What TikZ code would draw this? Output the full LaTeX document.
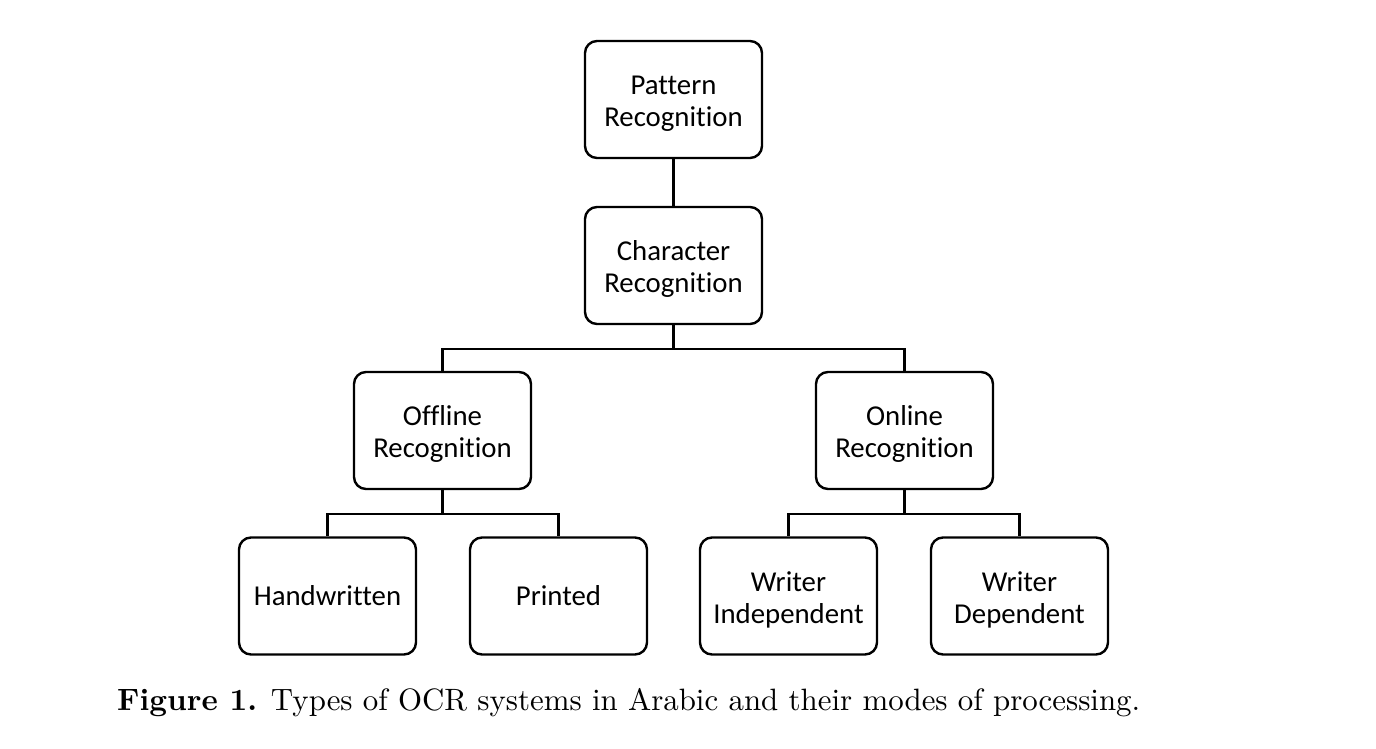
\documentclass[tikz,border=0pt]{standalone}
\usepackage{fontspec}
\setsansfont{Carlito}[Ligatures=NoCommon]
\usetikzlibrary{positioning}
\newcommand\twolines[2]{\raisebox{-5pt}[\height][\depth]{\begin{tabular}{@{}c@{}}#1\\#2\end{tabular}}}
\tikzset{
  box/.style={draw, line width=2.4pt, rounded corners=12pt, minimum width=177pt, minimum height=117pt, align=center, font=\sffamily\fontsize{28.8}{32}\selectfont, inner sep=0pt},
  link/.style={line width=2.4pt}
}
\begin{document}
\begin{tikzpicture}[x=1pt,y=-1pt]
\useasboundingbox (0,0) rectangle (1376,748);
\node[box] (pr) at (673.5,99.5) {\twolines{Pattern}{Recognition}};
\node[box] (cr) at (673.5,265.5) {\twolines{Character}{Recognition}};
\node[box] (off) at (442.5,430.5) {\twolines{Offline}{Recognition}};
\node[box] (on) at (904.5,430.5) {\twolines{Online}{Recognition}};
\node[box] (hw) at (327.5,596) {Handwritten};
\node[box] (pt) at (558.5,596) {Printed};
\node[box] (wi) at (788.5,596) {\twolines{Writer}{Independent}};
\node[box] (wd) at (1019.5,596) {\twolines{Writer}{Dependent}};
\draw[link] (pr) -- (cr);
\draw[link] (cr.south) -- ++(0,24) -| (off.north);
\draw[link] (cr.south) -- ++(0,24) -| (on.north);
\draw[link] (off.south) -- ++(0,24) -| (hw.north);
\draw[link] (off.south) -- ++(0,24) -| (pt.north);
\draw[link] (on.south) -- ++(0,24) -| (wi.north);
\draw[link] (on.south) -- ++(0,24) -| (wd.north);
\node[anchor=base west, inner sep=0pt] (cap) at (117,710) {\resizebox{1023pt}{!}{\textbf{Figure 1.} Types of OCR systems in Arabic and their modes of processing.}};
\end{tikzpicture}
\end{document}
